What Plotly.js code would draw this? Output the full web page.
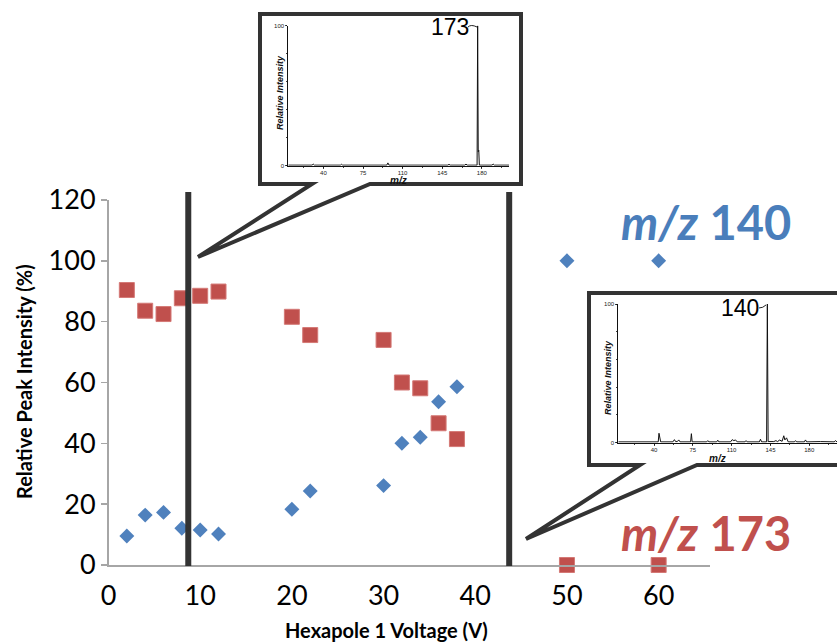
<!DOCTYPE html>
<html><head><meta charset="utf-8">
<script src="https://cdn.plot.ly/plotly-3.0.1.min.js"></script>
<style>html,body{margin:0;padding:0;background:#fff;} #chart{width:837px;height:643px;}</style>
</head><body><div id="chart"></div>
<script>
// ---- data ----
const voltage = [2, 4, 6, 8, 10, 12, 20, 22, 30, 32, 34, 36, 38, 50, 60];
const intensity140 = [9.5, 16.4, 17.3, 12.1, 11.5, 10.2, 18.3, 24.3, 26.1, 40.0, 42.0, 53.7, 58.6, 100, 100];
const intensity173 = [90.4, 83.6, 82.5, 87.7, 88.5, 89.9, 81.6, 75.6, 74.0, 60.0, 58.1, 46.6, 41.4, 0, 0];
const markerVoltages = [8.7, 43.7];
const xTickVals = [0, 10, 20, 30, 40, 50, 60];
const yTickVals = [0, 20, 40, 60, 80, 100, 120];
const specTickVals = [40, 75, 110, 145, 180];
const specYTickVals = [0, 100];

// inset spectrum at low voltage (m/z 173 dominant)
const spec173Mz  = [9, 30, 31, 32, 55, 56, 57, 96, 97, 98, 150, 151, 152, 165, 166, 167, 175.8, 176.3, 176.8, 177.3, 177.8, 189, 190, 191, 204];
const spec173Int = [0.4, 0.4, 1.2, 0.4, 0.4, 1.0, 0.4, 0.4, 2.0, 0.4, 0.4, 1.0, 0.4, 0.4, 1.2, 0.4, 0.4, 100, 10, 11, 0.4, 0.4, 1.2, 0.4, 0.4];

// inset spectrum at high voltage (m/z 140 dominant)
const spec140Mz  = [7.8, 43.8, 44.5, 45.2, 46, 57, 58.4, 59.5, 61, 62.3, 63.5, 73, 73.7, 74.4, 87.5, 88.5, 89.5, 96.5, 97.5, 98.5, 109, 110.5, 112, 113.5, 115, 122, 123, 124, 135, 136, 137, 141.5, 142.2, 142.9, 148, 150, 151.5, 153, 155.5, 157, 158, 159.5, 161, 166.6, 167.6, 168.6, 175.6, 176.6, 177.6, 190, 202.5, 203.5, 205];
const spec140Int = [0.6, 0.6, 6.8, 1.5, 0.6, 0.6, 2.2, 0.8, 0.8, 2.0, 0.6, 0.6, 6.5, 0.6, 0.6, 1.5, 0.6, 0.6, 1.8, 0.6, 0.6, 2.2, 1.5, 2.0, 0.6, 0.6, 1.5, 0.6, 0.6, 2.5, 0.6, 0.6, 100, 0.8, 0.8, 1.5, 0.6, 2.0, 1.0, 5.0, 2.0, 3.5, 0.6, 0.6, 1.5, 0.6, 0.6, 2.0, 0.6, 0.8, 0.6, 1.5, 0.6];

// ---- layout helpers (pixel -> paper fraction) ----
const W = 837, H = 643;
const fx = px => px / W;
const fy = py => 1 - py / H;
const pt = (x, y) => fx(x).toFixed(5) + ',' + fy(y).toFixed(5);
const poly = pts => 'M' + pts.map(p => pt(p[0], p[1])).join('L') + 'Z';

const BLUE = '#4F81BD', RED = '#C0504D', DARK = '#333333', AXIS = '#A6A6A6';
const MAIN_FONT = 'Lato, "Open Sans", sans-serif';
const SPEC_FONT = '"Liberation Sans", Arial, sans-serif';

const traces = [
  {x: voltage, y: intensity140, type: 'scatter', mode: 'markers', xaxis: 'x', yaxis: 'y', cliponaxis: false,
   marker: {symbol: 'diamond', size: 11.5, color: BLUE, line: {width: 0}}},
  {x: voltage, y: intensity173, type: 'scatter', mode: 'markers', xaxis: 'x', yaxis: 'y', cliponaxis: false,
   marker: {symbol: 'square', size: 15, color: RED, line: {width: 1, color: '#D47976'}}},
  {x: spec173Mz, y: spec173Int, type: 'scatter', mode: 'lines', xaxis: 'x2', yaxis: 'y2',
   line: {color: '#111', width: 1}},
  {x: spec140Mz, y: spec140Int, type: 'scatter', mode: 'lines', xaxis: 'x3', yaxis: 'y3', cliponaxis: false,
   line: {color: '#111', width: 1}}
];

const specX = (domain, range) => ({
  domain: domain, range: range, showgrid: false, zeroline: false, showline: true, linecolor: '#111', linewidth: 1,
  tickmode: 'array', tickvals: specTickVals, ticks: 'outside', ticklen: 2, tickwidth: 0.8, tickcolor: '#111',
  minor: {tickmode: 'linear', tick0: 5, dtick: 17.5, ticks: 'outside', ticklen: 1.5, tickcolor: '#111'},
  tickfont: {family: SPEC_FONT, size: 6, color: '#222'}, ticklabelstandoff: -1, fixedrange: true
});
const specY = (domain) => ({
  domain: domain, range: [0, 100], showgrid: false, zeroline: false, showline: true, linecolor: '#111', linewidth: 1,
  tickmode: 'array', tickvals: specYTickVals, ticks: 'outside', ticklen: 2, tickwidth: 0.8, tickcolor: '#111',
  minor: {tickmode: 'linear', tick0: 0, dtick: 20, ticks: 'outside', ticklen: 1.5, tickcolor: '#111'},
  tickfont: {family: SPEC_FONT, size: 6, color: '#222'}, fixedrange: true
});

const layout = {
  width: W, height: H, margin: {l: 0, r: 0, t: 0, b: 0},
  paper_bgcolor: '#ffffff', plot_bgcolor: 'rgba(0,0,0,0)',
  showlegend: false, hovermode: false,
  xaxis: {domain: [fx(108.5), fx(710)], range: [0, 65.6], anchor: 'y', showgrid: false, zeroline: false,
          showline: true, linecolor: AXIS, linewidth: 1.5, ticks: '', tickmode: 'array', tickvals: xTickVals,
          tickfont: {family: MAIN_FONT, size: 27, color: '#000'}, ticklabelstandoff: 6, fixedrange: true},
  yaxis: {domain: [fy(565), fy(200)], range: [0, 120], anchor: 'x', showgrid: false, zeroline: false,
          showline: true, linecolor: AXIS, linewidth: 1.5, ticks: 'outside', ticklen: 6, tickcolor: AXIS, tickwidth: 1.5,
          tickmode: 'array', tickvals: yTickVals, tickfont: {family: MAIN_FONT, size: 27, color: '#000'}, fixedrange: true},
  xaxis2: Object.assign(specX([fx(288.3), fx(509)], [9, 204]), {anchor: 'y2'}),
  yaxis2: Object.assign(specY([fy(165.7), fy(25.7)]), {anchor: 'x2'}),
  xaxis3: Object.assign(specX([fx(618.3), 1], [7.8, 205]), {anchor: 'y3'}),
  yaxis3: Object.assign(specY([fy(442.7), fy(304)]), {anchor: 'x3'}),
  shapes: [
    {type: 'path', xref: 'paper', yref: 'paper', layer: 'below', fillcolor: '#fff', line: {color: DARK, width: 4},
     path: poly([[260, 14], [521, 14], [521, 184], [370, 184], [198, 257], [312, 184], [260, 184]])},
    {type: 'path', xref: 'paper', yref: 'paper', layer: 'below', fillcolor: '#fff', line: {color: DARK, width: 4},
     path: poly([[589, 293], [850, 293], [850, 465], [697, 465], [526, 539], [640, 465], [589, 465]])},
    {type: 'line', xref: 'x', yref: 'paper', x0: markerVoltages[0], x1: markerVoltages[0], y0: fy(566), y1: fy(192),
     line: {color: DARK, width: 6}},
    {type: 'line', xref: 'x', yref: 'paper', x0: markerVoltages[1], x1: markerVoltages[1], y0: fy(566), y1: fy(192),
     line: {color: DARK, width: 6}},
    {type: 'path', xref: 'paper', yref: 'paper', line: {color: '#222', width: 1},
     path: 'M' + pt(468, 27) + 'Q' + pt(471, 24) + ' ' + pt(477, 27)},
    {type: 'path', xref: 'paper', yref: 'paper', line: {color: '#222', width: 1},
     path: 'M' + pt(759, 308) + 'Q' + pt(763, 308) + ' ' + pt(766, 305)}
  ],
  annotations: [
    {text: '<b><i>m/z</i> 140</b>', xref: 'paper', yref: 'paper', x: fx(706), y: fy(222), xanchor: 'center', yanchor: 'middle',
     showarrow: false, font: {family: MAIN_FONT, size: 47, color: '#4A7EBB'}},
    {text: '<b><i>m/z</i> 173</b>', xref: 'paper', yref: 'paper', x: fx(706), y: fy(533), xanchor: 'center', yanchor: 'middle',
     showarrow: false, font: {family: MAIN_FONT, size: 47, color: RED}},
    {text: '<b>Hexapole 1 Voltage (V)</b>', xref: 'paper', yref: 'paper', x: fx(386), y: fy(630), xanchor: 'center', yanchor: 'middle',
     showarrow: false, font: {family: MAIN_FONT, size: 20, color: '#000'}},
    {text: '<b>Relative Peak Intensity (%)</b>', xref: 'paper', yref: 'paper', x: fx(24), y: fy(382), xanchor: 'center', yanchor: 'middle',
     textangle: -90, showarrow: false, font: {family: MAIN_FONT, size: 20, color: '#000'}},
    {text: '173', xref: 'paper', yref: 'paper', x: fx(450), y: fy(27), xanchor: 'center', yanchor: 'middle',
     showarrow: false, font: {family: SPEC_FONT, size: 23, color: '#000'}},
    {text: '140', xref: 'paper', yref: 'paper', x: fx(740), y: fy(308), xanchor: 'center', yanchor: 'middle',
     showarrow: false, font: {family: SPEC_FONT, size: 23, color: '#000'}},
    {text: '<b><i>Relative Intensity</i></b>', xref: 'paper', yref: 'paper', x: fx(280), y: fy(93), xanchor: 'center', yanchor: 'middle',
     textangle: -90, showarrow: false, font: {family: SPEC_FONT, size: 9, color: '#111'}},
    {text: '<b><i>m/z</i></b>', xref: 'paper', yref: 'paper', x: fx(398), y: fy(180), xanchor: 'center', yanchor: 'middle',
     showarrow: false, font: {family: SPEC_FONT, size: 10, color: '#111'}},
    {text: '<b><i>Relative Intensity</i></b>', xref: 'paper', yref: 'paper', x: fx(608), y: fy(378), xanchor: 'center', yanchor: 'middle',
     textangle: -90, showarrow: false, font: {family: SPEC_FONT, size: 9, color: '#111'}},
    {text: '<b><i>m/z</i></b>', xref: 'paper', yref: 'paper', x: fx(717), y: fy(458), xanchor: 'center', yanchor: 'middle',
     showarrow: false, font: {family: SPEC_FONT, size: 10, color: '#111'}}
  ]
};

Plotly.newPlot('chart', traces, layout, {displayModeBar: false, staticPlot: true});
</script>
</body></html>
